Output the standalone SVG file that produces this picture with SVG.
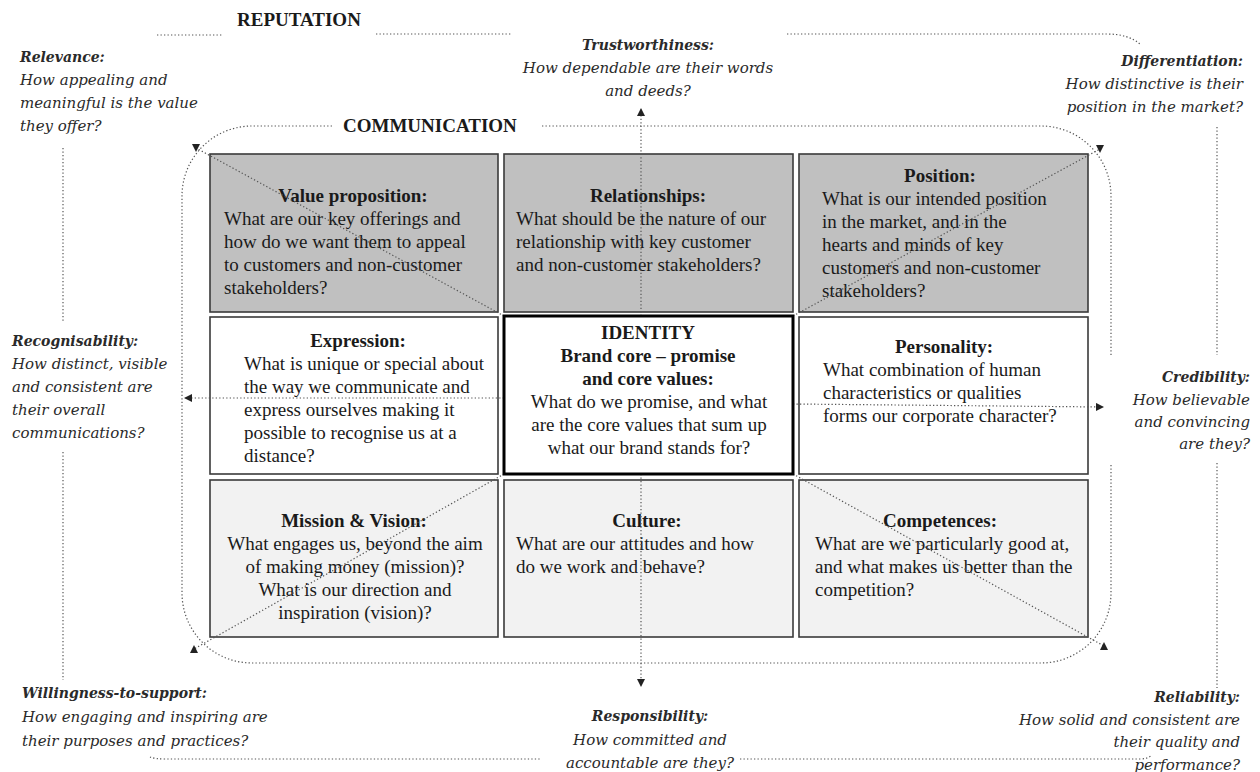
<svg xmlns="http://www.w3.org/2000/svg" width="1260" height="772" viewBox="0 0 1260 772">
<style>
.cell{stroke:#3a3a3a;stroke-width:1.6}
.dark{fill:#c0c0c0}
.white{fill:#ffffff}
.light{fill:#f2f2f2}
.t{font-family:"Liberation Serif","Times New Roman",serif;font-size:19px;fill:#1a1a1a}
.b{font-weight:bold}
.c{text-anchor:middle}
.r{text-anchor:end}
.o{font-family:"DejaVu Serif",serif;font-style:italic;font-size:15px;fill:#2a2a2a}
.ob{font-weight:bold;font-size:14px}
.h{font-family:"Liberation Serif","Times New Roman",serif;font-weight:bold;font-size:19px;fill:#1a1a1a}
.dot{fill:none;stroke:#555;stroke-width:1.2;stroke-dasharray:1.3 2.2}
</style>
<defs>
<marker id="tri" viewBox="0 0 8 8" refX="7" refY="4" markerWidth="8" markerHeight="8" markerUnits="userSpaceOnUse" orient="auto"><path d="M0,0 L8,4 L0,8 z" fill="#222"/></marker>
<marker id="down" viewBox="0 0 8 8" refX="4" refY="4" markerWidth="8" markerHeight="8" markerUnits="userSpaceOnUse" orient="0"><path d="M0,0 L8,0 L4,8 z" fill="#222"/></marker>
<marker id="up" viewBox="0 0 8 8" refX="4" refY="4" markerWidth="8" markerHeight="8" markerUnits="userSpaceOnUse" orient="0"><path d="M0,8 L8,8 L4,0 z" fill="#222"/></marker>
</defs>
<rect width="1260" height="772" fill="#ffffff"/>

<g id="frames">
<path class="dot" d="M157 35 H222 M376 34 H512 M787 34 H1107 Q1128 34 1140 44"/>
<path class="dot" d="M1217 127 V355 M1217 463 V688"/>
<path class="dot" d="M63 148 V322 M63 452 V680"/>
<path class="dot" d="M150 757 Q155 759 165 759 H540 M740 759 H1140 Q1148 759 1152 755"/>
<path class="dot" d="M542 126 H1041 A70 70 0 0 1 1111 196 V355 M1111 465 V593 A70 70 0 0 1 1041 663 H252 A70 70 0 0 1 182 593 V196 A70 70 0 0 1 252 126 H332"/>
<text class="h" x="237" y="26">REPUTATION</text>
<text class="h" x="343" y="132">COMMUNICATION</text>
</g>

<g id="relevance">
<text class="o ob" x="20" y="62">Relevance:</text>
<text class="o" x="20" y="85">How appealing and</text>
<text class="o" x="20" y="108">meaningful is the value</text>
<text class="o" x="20" y="131">they offer?</text>
</g>
<g id="trustworthiness">
<text class="o ob c" x="648" y="50">Trustworthiness:</text>
<text class="o c" x="648" y="73">How dependable are their words</text>
<text class="o c" x="648" y="96">and deeds?</text>
</g>
<g id="differentiation">
<text class="o ob r" x="1243" y="66">Differentiation:</text>
<text class="o r" x="1243" y="89">How distinctive is their</text>
<text class="o r" x="1243" y="112">position in the market?</text>
</g>
<g id="recognisability">
<text class="o ob" x="12" y="346">Recognisability:</text>
<text class="o" x="12" y="369">How distinct, visible</text>
<text class="o" x="12" y="392">and consistent are</text>
<text class="o" x="12" y="415">their overall</text>
<text class="o" x="12" y="438">communications?</text>
</g>
<g id="credibility">
<text class="o ob r" x="1250" y="382">Credibility:</text>
<text class="o r" x="1250" y="405">How believable</text>
<text class="o r" x="1250" y="427">and convincing</text>
<text class="o r" x="1250" y="449">are they?</text>
</g>
<g id="willingness">
<text class="o ob" x="22" y="698">Willingness-to-support:</text>
<text class="o" x="22" y="722">How engaging and inspiring are</text>
<text class="o" x="22" y="746">their purposes and practices?</text>
</g>
<g id="responsibility">
<text class="o ob c" x="650" y="721">Responsibility:</text>
<text class="o c" x="650" y="745">How committed and</text>
<text class="o c" x="650" y="768">accountable are they?</text>
</g>
<g id="reliability">
<text class="o ob r" x="1240" y="702">Reliability:</text>
<text class="o r" x="1240" y="725">How solid and consistent are</text>
<text class="o r" x="1240" y="747">their quality and</text>
<text class="o r" x="1240" y="770">performance?</text>
</g>

<g id="value-proposition">
<rect class="cell dark" x="210" y="154" width="288" height="158"/>
<text class="t b c" x="353" y="202">Value proposition:</text>
<text class="t" x="224" y="225">What are our key offerings and</text>
<text class="t" x="224" y="248">how do we want them to appeal</text>
<text class="t" x="224" y="271">to customers and non-customer</text>
<text class="t" x="224" y="294">stakeholders?</text>
</g>
<g id="relationships">
<rect class="cell dark" x="504" y="154" width="289" height="158"/>
<text class="t b c" x="648" y="202">Relationships:</text>
<text class="t" x="516" y="225">What should be the nature of our</text>
<text class="t" x="516" y="248">relationship with key customer</text>
<text class="t" x="516" y="271">and non-customer stakeholders?</text>
</g>
<g id="position">
<rect class="cell dark" x="799" y="154" width="289" height="158"/>
<text class="t b c" x="940" y="182">Position:</text>
<text class="t" x="822" y="205">What is our intended position</text>
<text class="t" x="822" y="228">in the market, and in the</text>
<text class="t" x="822" y="251">hearts and minds of key</text>
<text class="t" x="822" y="274">customers and non-customer</text>
<text class="t" x="822" y="297">stakeholders?</text>
</g>
<g id="expression">
<rect class="cell white" x="210" y="317" width="288" height="157"/>
<text class="t b c" x="358" y="347">Expression:</text>
<text class="t" x="244" y="370">What is unique or special about</text>
<text class="t" x="244" y="393">the way we communicate and</text>
<text class="t" x="244" y="416">express ourselves making it</text>
<text class="t" x="244" y="439">possible to recognise us at a</text>
<text class="t" x="244" y="462">distance?</text>
</g>
<g id="personality">
<rect class="cell white" x="799" y="317" width="289" height="157"/>
<text class="t b c" x="944" y="353">Personality:</text>
<text class="t" x="823" y="376">What combination of human</text>
<text class="t" x="823" y="399">characteristics or qualities</text>
<text class="t" x="823" y="422">forms our corporate character?</text>
</g>
<g id="mission-vision">
<rect class="cell light" x="210" y="480" width="288" height="157"/>
<text class="t b c" x="354" y="527">Mission &amp; Vision:</text>
<text class="t c" x="355" y="550">What engages us, beyond the aim</text>
<text class="t c" x="355" y="573">of making money (mission)?</text>
<text class="t c" x="355" y="596">What is our direction and</text>
<text class="t c" x="355" y="619">inspiration (vision)?</text>
</g>
<g id="culture">
<rect class="cell light" x="504" y="480" width="289" height="157"/>
<text class="t b c" x="647" y="527">Culture:</text>
<text class="t" x="516" y="550">What are our attitudes and how</text>
<text class="t" x="516" y="573">do we work and behave?</text>
</g>
<g id="competences">
<rect class="cell light" x="799" y="480" width="289" height="157"/>
<text class="t b c" x="940" y="527">Competences:</text>
<text class="t" x="815" y="550">What are we particularly good at,</text>
<text class="t" x="815" y="573">and what makes us better than the</text>
<text class="t" x="815" y="596">competition?</text>
</g>

<g id="connectors">
<path class="dot" d="M641 316 V109" marker-end="url(#tri)"/>
<path class="dot" d="M641 474 V686" marker-end="url(#tri)"/>
<path class="dot" d="M504 398 H185" marker-end="url(#tri)"/>
<path class="dot" d="M793 404 L1103 407" marker-end="url(#tri)"/>
<path class="dot" d="M504 316 L196 148" marker-end="url(#down)"/>
<path class="dot" d="M793 316 L1100 149" marker-end="url(#down)"/>
<path class="dot" d="M504 474 L194 649" marker-end="url(#up)"/>
<path class="dot" d="M793 474 L1104 646" marker-end="url(#up)"/>
</g>

<g id="identity">
<rect x="504" y="316" width="289" height="158" fill="#ffffff" stroke="#000" stroke-width="3"/>
<text class="t b c" x="648" y="339">IDENTITY</text>
<text class="t b c" x="648" y="362">Brand core – promise</text>
<text class="t b c" x="648" y="385">and core values:</text>
<text class="t c" x="649" y="408">What do we promise, and what</text>
<text class="t c" x="649" y="431">are the core values that sum up</text>
<text class="t c" x="649" y="454">what our brand stands for?</text>
</g>
</svg>
